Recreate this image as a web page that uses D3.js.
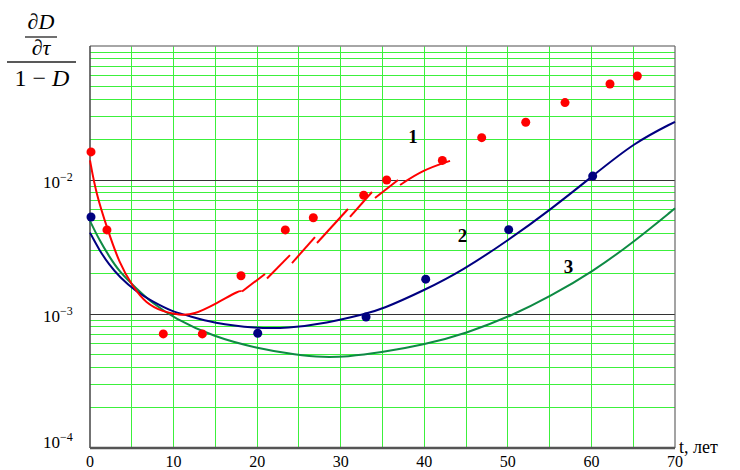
<!DOCTYPE html>
<html>
<head>
<meta charset="utf-8">
<script src="https://cdn.jsdelivr.net/npm/d3@7"></script>
<style>
  body { margin: 0; background: #fff; }
  svg { display: block; }
</style>
</head>
<body>
<svg id="chart" width="740" height="470"></svg>
<script>
// years on the x axis
const xTicks = [0, 10, 20, 30, 40, 50, 60, 70]
const yLabelTicks = [1e-4, 1e-3, 1e-2]

// measured points [t, value]
const redPoints = [
  [0.12, 1.62e-2], [2.03, 4.24e-3], [8.77, 7.10e-4], [13.44, 7.10e-4], [18.07, 1.93e-3],
  [23.37, 4.24e-3], [26.72, 5.23e-3], [32.75, 7.69e-3], [35.5, 1.0e-2], [42.16, 1.40e-2],
  [46.87, 2.07e-2], [52.14, 2.70e-2], [56.84, 3.78e-2], [62.22, 5.20e-2], [65.49, 5.97e-2]
]
const bluePoints = [
  [0.12, 5.30e-3], [20.07, 7.18e-4], [33.03, 9.50e-4], [40.17, 1.82e-3], [50.1, 4.26e-3], [60.15, 1.07e-2]
]

// curve 1 is drawn in pieces
const curve1 = [
  [[0, 1.40e-2], [0.72, 7.96e-3], [2.12, 4.24e-3], [3.51, 2.39e-3], [5.11, 1.60e-3], [6.7, 1.20e-3],
   [8.7, 1.04e-3], [10.69, 9.83e-4], [12.36, 9.83e-4], [15.16, 1.20e-3], [17.95, 1.51e-3], [18.15, 1.47e-3]],
  [[18.19, 1.47e-3], [20.94, 1.99e-3]],
  [[21.18, 1.84e-3], [23.93, 2.75e-3]],
  [[24.17, 2.40e-3], [26.92, 3.75e-3]],
  [[27.16, 3.39e-3], [30.87, 6.08e-3]],
  [[31.11, 5.30e-3], [33.74, 8.14e-3]],
  [[34.1, 7.34e-3], [36.86, 1.0e-2]],
  [[37.1, 9.18e-3], [39.85, 1.19e-2], [43.08, 1.39e-2]]
]
const curve2 = [
  [0, 4.05e-3], [1.11, 3.00e-3], [2.31, 2.32e-3], [3.51, 1.90e-3], [5.5, 1.47e-3], [7.5, 1.24e-3],
  [9.9, 1.04e-3], [11.49, 9.83e-4], [14.75, 8.53e-4], [19.95, 7.82e-4], [23.54, 7.82e-4],
  [28.32, 8.53e-4], [33.11, 1.01e-3], [34.7, 1.07e-3], [40.09, 1.51e-3], [44.67, 2.13e-3],
  [50.1, 3.57e-3], [55.04, 5.97e-3], [60.15, 1.07e-2], [65.09, 1.90e-2], [70, 2.72e-2]
]
const curve3 = [
  [0, 4.95e-3], [1.11, 3.57e-3], [2.31, 2.68e-3], [3.51, 2.07e-3], [5.5, 1.56e-3], [7.5, 1.20e-3],
  [10.09, 9.29e-4], [14.75, 6.77e-4], [19.95, 5.55e-4], [24.73, 4.94e-4], [27.92, 4.75e-4],
  [30.72, 4.80e-4], [34.7, 5.14e-4], [39.88, 5.87e-4], [45.08, 7.18e-4], [50.65, 9.83e-4],
  [55.04, 1.35e-3], [60.15, 2.07e-3], [65.09, 3.46e-3], [70, 6.15e-3]
]
const curveLabels = [['1', 38.65, 1.89e-2], ['2', 44.57, 3.44e-3], ['3', 57.26, 2.02e-3]]

const svg = d3.select('#chart')
const x = d3.scaleLinear().domain([0, 70]).range([90, 675])
const y = d3.scaleLog().domain([1e-4, 1e-1]).range([448, 46])

// grid
const grid = svg.append('g').attr('shape-rendering', 'crispEdges')
grid.selectAll('line.v')
  .data(d3.range(5, 70, 5))
  .enter().append('line')
  .attr('x1', d => x(d)).attr('x2', d => x(d))
  .attr('y1', y(1e-1)).attr('y2', y(1e-4))
  .attr('stroke', '#3cf03c')
grid.selectAll('line.h')
  .data(y.ticks().filter(d => d > 1e-4 && d < 1e-1))
  .enter().append('line')
  .attr('x1', x(0)).attr('x2', x(70))
  .attr('y1', d => y(d)).attr('y2', d => y(d))
  .attr('stroke', d => Math.abs(Math.log10(d) - Math.round(Math.log10(d))) < 1e-6 ? '#333' : '#3cf03c')

// frame
svg.append('line').attr('x1', x(0)).attr('x2', x(70)).attr('y1', y(1e-1)).attr('y2', y(1e-1))
  .attr('stroke', '#888').attr('stroke-width', 1.5)
svg.append('line').attr('x1', x(70)).attr('x2', x(70)).attr('y1', y(1e-1)).attr('y2', y(1e-4))
  .attr('stroke', '#666').attr('stroke-width', 1.2)
svg.append('line').attr('x1', x(0)).attr('x2', x(0)).attr('y1', y(1e-1)).attr('y2', y(1e-4))
  .attr('stroke', '#444').attr('stroke-width', 1.5)
svg.append('line').attr('x1', x(0)).attr('x2', x(70)).attr('y1', y(1e-4)).attr('y2', y(1e-4))
  .attr('stroke', '#555').attr('stroke-width', 2.5)

// curves
const line = d3.line().x(d => x(d[0])).y(d => y(d[1])).curve(d3.curveBasis)
svg.append('path').datum(curve3).attr('d', line)
  .attr('fill', 'none').attr('stroke', '#0e8a44').attr('stroke-width', 2)
svg.append('path').datum(curve2).attr('d', line)
  .attr('fill', 'none').attr('stroke', '#000080').attr('stroke-width', 2)
svg.selectAll('path.c1')
  .data(curve1)
  .enter().append('path')
  .attr('class', 'c1')
  .attr('d', line)
  .attr('fill', 'none').attr('stroke', '#ff0000').attr('stroke-width', 2)

// points
svg.selectAll('circle.red')
  .data(redPoints)
  .enter().append('circle')
  .attr('cx', d => x(d[0])).attr('cy', d => y(d[1])).attr('r', 4.5)
  .attr('fill', '#ff0000')
svg.selectAll('circle.blue')
  .data(bluePoints)
  .enter().append('circle')
  .attr('cx', d => x(d[0])).attr('cy', d => y(d[1])).attr('r', 4.5)
  .attr('fill', '#000080')

// curve numbers
svg.selectAll('text.num')
  .data(curveLabels)
  .enter().append('text')
  .attr('x', d => x(d[1])).attr('y', d => y(d[2]))
  .attr('text-anchor', 'middle')
  .style('font-family', '"Liberation Serif", serif')
  .style('font-weight', 'bold').style('font-size', '19px')
  .text(d => d[0])

// x tick labels
svg.selectAll('text.xt')
  .data(xTicks)
  .enter().append('text')
  .attr('x', d => x(d)).attr('y', 467)
  .attr('text-anchor', 'middle')
  .style('font-family', '"Liberation Serif", serif').style('font-size', '16px')
  .text(d => d)

svg.append('text').attr('x', 679).attr('y', 453)
  .style('font-family', '"Liberation Serif", serif').style('font-size', '18px')
  .text('t, лет')

// y tick labels
const yt = svg.selectAll('text.yt')
  .data(yLabelTicks)
  .enter().append('text')
  .attr('x', 43).attr('y', d => Math.min(y(d) + 8, 448))
  .style('font-family', '"Liberation Serif", serif').style('font-size', '17px')
yt.append('tspan').text('10')
yt.append('tspan').attr('dy', -7).style('font-size', '12px')
  .text(d => '−' + Math.round(-Math.log10(d)))

// y axis title as a fraction
const ttl = svg.append('g').style('font-family', '"Liberation Serif", serif').style('font-style', 'italic')
ttl.append('text').attr('x', 41).attr('y', 29).attr('text-anchor', 'middle')
  .style('font-size', '22px').text('∂D')
ttl.append('line').attr('x1', 25).attr('x2', 57).attr('y1', 37).attr('y2', 37)
  .attr('stroke', '#222').attr('stroke-width', 1.3)
ttl.append('text').attr('x', 41).attr('y', 55).attr('text-anchor', 'middle')
  .style('font-size', '22px').text('∂τ')
ttl.append('line').attr('x1', 7).attr('x2', 76).attr('y1', 62).attr('y2', 62)
  .attr('stroke', '#222').attr('stroke-width', 1.6)
const den = ttl.append('text').attr('x', 42).attr('y', 86).attr('text-anchor', 'middle')
  .style('font-size', '24px')
den.append('tspan').style('font-style', 'normal').text('1 − ')
den.append('tspan').text('D')
</script>
</body>
</html>
